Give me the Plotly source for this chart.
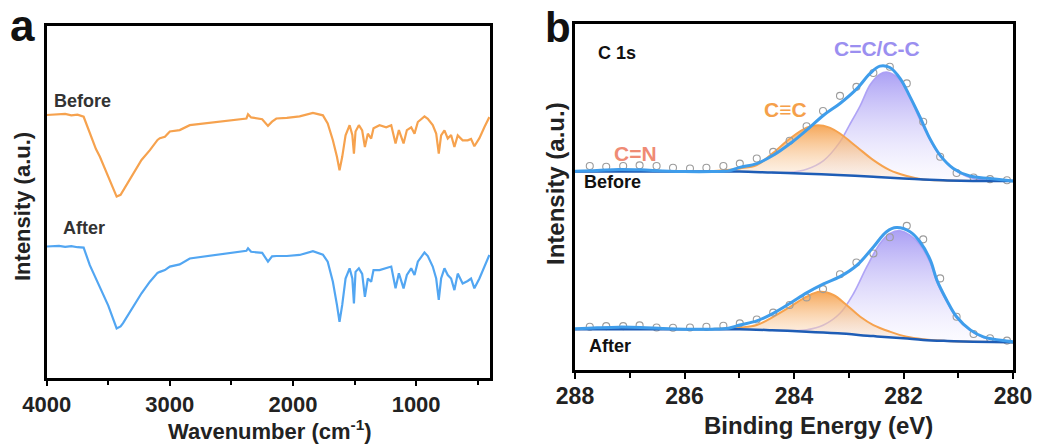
import plotly.graph_objects as go

# ---------------- FTIR (panel a) ----------------
ftir_wn = [4000, 3900, 3850, 3800, 3750, 3700, 3650, 3600, 3568, 3500, 3432, 3400, 3380, 3297, 3230,
           3162, 3100, 3081, 3040, 3000, 2920, 2838, 2700, 2622, 2500, 2378, 2365, 2340, 2250, 2203,
           2170, 2135, 2050, 1946, 1838, 1757, 1718, 1676, 1643, 1622, 1600, 1573, 1540, 1518, 1505,
           1492, 1465, 1438, 1416, 1392, 1365, 1346, 1297, 1243, 1202, 1167, 1140, 1102, 1075, 1040,
           1013, 986, 932, 905, 865, 837, 816, 797, 770, 743, 716, 689, 662, 622, 581, 554, 527,
           486, 445, 405]
ftir_before = [74.7, 74.9, 75.0, 74.6, 74.8, 74.2, 69.5, 65.0, 62.8, 57.2, 51.5, 52.0, 53.2, 58.1, 61.9,
               64.7, 67.6, 68.1, 68.5, 70.0, 70.4, 71.8, 72.4, 72.8, 73.2, 73.7, 74.9, 74.0, 73.5, 71.6,
               72.8, 73.7, 73.9, 74.3, 75.3, 74.6, 72.3, 67.5, 62.8, 59.0, 62.8, 68.9, 71.8, 69.0, 63.7,
               70.0, 71.8, 70.3, 65.6, 69.4, 68.0, 70.9, 71.8, 71.2, 71.8, 66.6, 70.4, 66.6, 70.4, 71.2,
               69.4, 72.7, 74.3, 73.6, 71.8, 69.4, 63.7, 68.9, 70.3, 68.0, 69.0, 65.6, 68.9, 67.5, 67.5,
               67.9, 65.8, 68.1, 71.3, 74.1]
ftir_after = [37.3, 37.5, 37.2, 37.4, 37.1, 37.0, 32.0, 28.0, 25.9, 20.5, 14.0, 14.6, 15.5, 20.2, 24.0,
              27.3, 29.8, 30.1, 30.6, 31.6, 32.2, 33.9, 34.5, 34.9, 35.5, 36.1, 36.8, 35.8, 35.5, 33.0,
              34.5, 34.6, 34.6, 34.9, 36.0, 35.0, 33.0, 27.3, 20.7, 15.9, 20.7, 28.2, 31.1, 28.2, 21.1,
              30.1, 31.1, 29.5, 23.0, 28.2, 27.3, 30.6, 30.6, 31.1, 31.6, 25.4, 29.7, 25.4, 29.2, 31.1,
              29.2, 33.0, 35.6, 34.6, 31.6, 28.2, 22.1, 28.2, 31.1, 29.2, 28.2, 24.9, 29.6, 26.8, 27.5,
              28.2, 25.4, 28.2, 31.5, 34.9]
ftir_ticks = [4000, 3000, 2000, 1000]
ftir_minor = [3500, 2500, 1500, 500]

# ---------------- XPS C 1s (panel b) ----------------
# Before
b_env_x = [288.0, 287.6, 287.2, 286.8, 286.4, 286.0, 285.5, 285.2, 284.99, 284.68, 284.38, 284.07, 283.77,
           283.46, 283.16, 282.85, 282.61, 282.43, 282.25, 282.06, 281.88, 281.70, 281.52, 281.33, 281.09,
           280.79, 280.42, 280.0]
b_env_y = [57.5, 57.7, 58.0, 57.9, 57.6, 57.4, 57.4, 57.6, 58.6, 59.7, 62.1, 65.5, 69.4,
           73.7, 77.1, 81.4, 85.8, 87.9, 87.5, 84.3, 79.0, 73.2, 67.0, 62.1, 58.3,
           56.1, 55.4, 54.7]
b_bg_x = [288.0, 285.6, 285.0, 284.4, 283.77, 283.2, 282.55, 282.0, 281.64, 281.2, 280.73, 280.0]
b_bg_y = [57.4, 57.4, 57.4, 57.1, 56.8, 56.4, 55.9, 55.4, 55.1, 54.85, 54.7, 54.7]
b_cc3_x = [285.6, 284.99, 284.68, 284.38, 284.07, 283.77, 283.56, 283.35, 283.16, 282.85, 282.55, 282.25,
           281.94, 281.64, 281.2, 280.73, 280.0]
b_cc3_y = [57.4, 58.3, 59.3, 62.8, 67.0, 70.1, 70.8, 70.1, 68.4, 64.5, 60.7, 57.8,
           56.1, 55.1, 54.85, 54.7, 54.7]
b_cc_x = [284.4, 284.07, 283.77, 283.46, 283.16, 283.0, 282.79, 282.61, 282.43, 282.31, 282.12, 281.94,
          281.76, 281.58, 281.39, 281.21, 280.97, 280.73, 280.42, 280.0]
b_cc_y = [57.1, 57.2, 58.1, 60.6, 66.0, 70.5, 76.5, 82.5, 85.6, 86.2, 84.8, 80.9,
          74.5, 68.5, 63.2, 60.0, 57.0, 55.4, 54.9, 54.7]
b_cn_x = [288.0, 287.6, 287.2, 286.8, 286.4, 286.0]
b_cn_y = [57.4, 57.6, 57.9, 57.8, 57.5, 57.4]

# After
a_env_x = [288.0, 287.6, 287.2, 286.8, 286.4, 286.0, 285.5, 285.2, 284.99, 284.68, 284.38, 284.07, 283.77,
           283.46, 283.16, 282.85, 282.55, 282.31, 282.13, 281.88, 281.70, 281.51, 281.39, 281.21, 281.03,
           280.78, 280.54, 280.12, 280.0]
a_env_y = [11.9, 12.2, 12.4, 12.3, 12.0, 11.8, 11.8, 12.1, 13.0, 14.2, 16.4, 19.3, 22.3,
           24.9, 27.0, 30.3, 35.6, 40.0, 41.2, 40.0, 37.1, 31.8, 26.0, 20.2, 15.4,
           11.6, 9.6, 8.4, 8.2]
a_bg_x = [288.0, 285.6, 285.0, 284.4, 283.77, 283.2, 282.55, 282.0, 281.64, 281.2, 280.73, 280.0]
a_bg_y = [11.8, 11.8, 11.8, 11.5, 11.1, 10.6, 9.8, 9.2, 8.7, 8.4, 8.2, 8.0]
a_cc3_x = [285.6, 284.99, 284.68, 284.38, 284.07, 283.77, 283.53, 283.28, 283.04, 282.79, 282.55, 282.25,
           281.94, 281.64, 281.2, 280.73, 280.0]
a_cc3_y = [11.8, 12.3, 13.0, 15.4, 18.3, 21.2, 22.6, 21.7, 18.8, 15.4, 13.0, 11.1,
           9.6, 8.9, 8.4, 8.2, 8.0]
a_cc_x = [284.4, 284.07, 283.77, 283.46, 283.16, 282.91, 282.67, 282.43, 282.25, 282.06, 281.88, 281.70,
          281.51, 281.39, 281.21, 281.03, 280.78, 280.54, 280.12, 280.0]
a_cc_y = [11.5, 11.4, 11.6, 13.0, 16.4, 22.2, 29.9, 36.6, 39.5, 40.3, 39.0, 36.3,
          31.0, 25.5, 19.8, 15.1, 11.4, 9.4, 8.3, 8.0]
a_cn_x = [288.0, 287.6, 287.2, 286.8, 286.4, 286.0]
a_cn_y = [11.8, 12.1, 12.3, 12.2, 11.9, 11.8]

# measured points (open circles)
pts_x = [287.73, 287.43, 287.12, 286.82, 286.51, 286.21, 285.90, 285.60, 285.29, 284.99, 284.68, 284.38,
         284.08, 283.77, 283.47, 283.16, 282.86, 282.55, 282.25, 281.94, 281.64, 281.33, 281.03, 280.72,
         280.42, 280.11]
pts_before = [59.0, 58.8, 59.0, 59.2, 59.0, 58.5, 58.3, 58.5, 59.0, 59.7, 61.2, 63.1,
              66.3, 70.5, 74.9, 79.3, 81.9, 85.9, 87.7, 82.9, 71.8, 61.7, 57.0, 55.7,
              55.2, 54.9]
pts_after = [12.5, 12.7, 12.7, 12.9, 12.3, 12.2, 12.3, 12.5, 12.8, 13.5, 14.6, 16.6,
             18.8, 21.0, 23.4, 27.7, 31.1, 33.7, 38.4, 41.7, 37.8, 26.5, 15.4, 10.4,
             9.2, 8.5]
xps_ticks = [288, 286, 284, 282, 280]
xps_minor = [287, 285, 283, 281]

# ---------------- styles ----------------
FONT = "Liberation Sans, Arial, sans-serif"
ORANGE = "#F6A24E"
BLUE_FTIR = "#52A6F2"
ENV = "#3F9DEB"
BG = "#1E5DB6"
PURPLE_LINE = "rgba(168,156,245,0.9)"
CN = "#EE8A72"
W, H = 1038, 446


def px(x):
    return x / W


def py(y):
    return 1 - y / H


fig = go.Figure()

# FTIR
fig.add_trace(go.Scatter(x=ftir_wn, y=ftir_before, mode="lines", line=dict(color=ORANGE, width=2.2),
                         xaxis="x", yaxis="y", showlegend=False))
fig.add_trace(go.Scatter(x=ftir_wn, y=ftir_after, mode="lines", line=dict(color=BLUE_FTIR, width=2.2),
                         xaxis="x", yaxis="y", showlegend=False))

purple_grad = dict(type="vertical", colorscale=[[0, "rgba(246,244,255,0.35)"], [1, "rgba(162,150,243,0.9)"]])
orange_grad = dict(type="vertical", colorscale=[[0, "rgba(252,232,212,0.35)"], [1, "rgba(245,160,75,0.92)"]])

for bgx, bgy, ccx, ccy, c3x, c3y, cnx, cny, envx, envy, pty in [
    (b_bg_x, b_bg_y, b_cc_x, b_cc_y, b_cc3_x, b_cc3_y, b_cn_x, b_cn_y, b_env_x, b_env_y, pts_before),
    (a_bg_x, a_bg_y, a_cc_x, a_cc_y, a_cc3_x, a_cc3_y, a_cn_x, a_cn_y, a_env_x, a_env_y, pts_after),
]:
    # purple component filled down to background
    fig.add_trace(go.Scatter(x=bgx, y=bgy, mode="lines", line=dict(width=0, shape="spline"),
                             xaxis="x2", yaxis="y2", showlegend=False, hoverinfo="skip"))
    fig.add_trace(go.Scatter(x=ccx, y=ccy, mode="lines", line=dict(color=PURPLE_LINE, width=1.6, shape="spline"),
                             fill="tonexty", fillgradient=purple_grad,
                             xaxis="x2", yaxis="y2", showlegend=False))
    # orange component
    fig.add_trace(go.Scatter(x=bgx, y=bgy, mode="lines", line=dict(width=0, shape="spline"),
                             xaxis="x2", yaxis="y2", showlegend=False, hoverinfo="skip"))
    fig.add_trace(go.Scatter(x=c3x, y=c3y, mode="lines", line=dict(color=ORANGE, width=2, shape="spline"),
                             fill="tonexty", fillgradient=orange_grad,
                             xaxis="x2", yaxis="y2", showlegend=False))
    # C=N component
    fig.add_trace(go.Scatter(x=cnx, y=cny, mode="lines", line=dict(color=CN, width=1.5, shape="spline"),
                             xaxis="x2", yaxis="y2", showlegend=False))
    # data points
    fig.add_trace(go.Scatter(x=pts_x, y=pty, mode="markers",
                             marker=dict(symbol="circle-open", size=7, color="#9c9c9c", line=dict(width=1.1)),
                             xaxis="x2", yaxis="y2", showlegend=False))
    # background and envelope
    fig.add_trace(go.Scatter(x=bgx, y=bgy, mode="lines", line=dict(color=BG, width=2.5, shape="spline"),
                             xaxis="x2", yaxis="y2", showlegend=False))
    fig.add_trace(go.Scatter(x=envx, y=envy, mode="lines", line=dict(color=ENV, width=3, shape="spline"),
                             xaxis="x2", yaxis="y2", showlegend=False))

axis_common = dict(showline=True, linecolor="black", linewidth=2.5, mirror=True, showgrid=False,
                   zeroline=False, automargin=False)

fig.update_layout(
    template="none",
    width=W, height=H,
    margin=dict(l=0, r=0, t=0, b=0, pad=0),
    paper_bgcolor="white", plot_bgcolor="white",
    font=dict(family=FONT, color="#222222"),
    xaxis=dict(domain=[px(46.7), px(490)], range=[4000, 400], tickvals=ftir_ticks,
               ticks="outside", ticklen=6, tickwidth=2, tickcolor="black",
               minor=dict(tickvals=ftir_minor, ticks="outside", ticklen=5, tickwidth=2, tickcolor="black"),
               tickfont=dict(size=22, family=FONT, weight="bold", color="#222222"),
               ticklabelstandoff=-1, anchor="y", **axis_common),
    yaxis=dict(domain=[py(377.7), py(26)], range=[0, 100], showticklabels=False, ticks="",
               anchor="x", **axis_common),
    xaxis2=dict(domain=[px(575), px(1013)], range=[288, 280], tickvals=xps_ticks,
                ticks="outside", ticklen=6, tickwidth=2, tickcolor="black",
                minor=dict(tickvals=xps_minor, ticks="outside", ticklen=5, tickwidth=2, tickcolor="black"),
                tickfont=dict(size=23, family=FONT, weight="bold", color="#222222"),
                ticklabelstandoff=-2, anchor="y2", **axis_common),
    yaxis2=dict(domain=[py(370), py(24.3)], range=[0, 100], showticklabels=False, ticks="",
                anchor="x2", **axis_common),
)


def label(text, x, y, size, color="#222222", angle=0):
    fig.add_annotation(text=text, x=px(x), y=py(y), xref="paper", yref="paper",
                       xanchor="center", yanchor="middle", showarrow=False, textangle=angle,
                       font=dict(family=FONT, size=size, color=color, weight="bold"))


# panel letters
label("a", 22, 26, 44, "#111111")
label("b", 558, 28, 42, "#111111")
# axis titles
label("Wavenumber (cm<sup>-1</sup>)", 270, 430, 22)
label("Binding Energy (eV)", 818, 425, 24)
label("Intensity (a.u.)", 22, 207, 22, angle=-90)
label("Intensity (a.u.)", 555, 184, 24, angle=-90)
# panel a labels
label("Before", 82, 101, 18, "#333333")
label("After", 84, 228, 18, "#333333")
# panel b labels
label("C 1s", 617, 53, 18, "#111111")
label("C=C/C-C", 877, 49, 21, "#9B8FF0")
label("C≡C", 785, 109, 21, "#F5A04A")
label("C=N", 635, 153, 21, "#EF8B75")
label("Before", 612, 182, 18, "#111111")
label("After", 610, 346, 18, "#111111")

fig.write_html("out.html", config={"displayModeBar": False},
               post_script="document.body.style.margin='0px';document.body.style.overflow='hidden';")
